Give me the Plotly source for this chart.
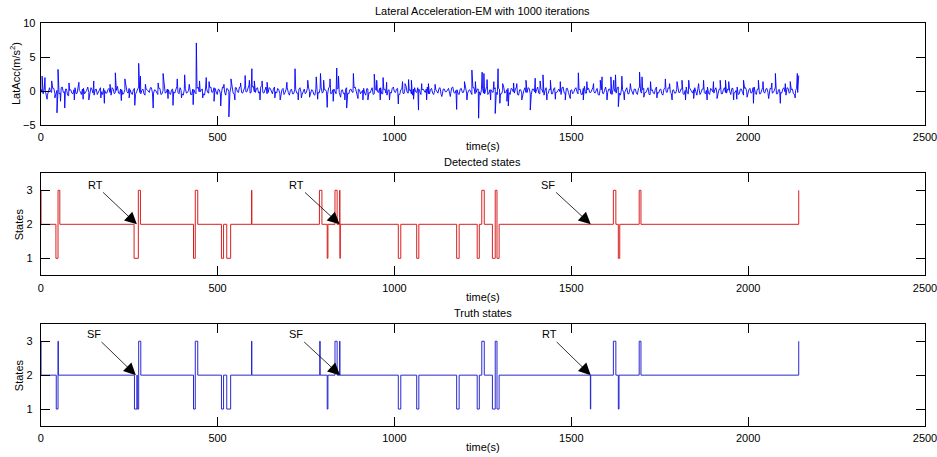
import plotly.graph_objects as go

# ---------------- data ----------------
# Lateral acceleration: two interleaved baseline noise series (every 6 s, starting t=1 and t=4), plus spikes
LAT_BASE_START = 1
LAT_BASE_B_START = 4
LAT_BASE_STEP = 6
LAT_BASE = [
    0.3,-0.4,0.1,-0.6,0.5,-0.2,0.4,-0.5,0.2,-0.3,0.6,-0.1,0.3,-0.7,0.2,-0.4,0.5,-0.3,0.1,-0.5,
    0.4,-0.2,0.6,-0.4,0.2,-0.6,0.3,-0.1,0.5,-0.5,0.1,-0.3,0.4,-0.6,0.3,-0.2,0.7,-0.4,0.2,-0.3,
    0.5,-0.3,0.2,-0.5,0.4,-0.1,0.6,-0.4,0.3,-0.6,0.2,-0.2,0.5,-0.3,0.1,-0.5,0.4,-0.4,0.6,-0.2,
    0.2,-0.5,0.3,-0.3,0.7,-0.4,0.1,-0.6,0.4,-0.2,0.5,-0.5,0.2,-0.4,0.6,-0.1,0.3,-0.6,0.4,-0.3,
    0.6,-0.1,0.4,-0.5,0.2,-0.3,0.5,-0.6,0.3,-0.2,0.8,-0.4,0.5,-0.2,0.7,-0.3,0.6,-0.1,0.9,-0.2,
    0.7,-0.2,0.5,-0.1,0.8,-0.3,0.6,-0.2,0.4,-0.4,0.6,-0.3,0.2,-0.5,0.4,-0.2,0.5,-0.6,0.3,-0.4,
    0.2,-0.3,0.5,-0.5,0.3,-0.2,0.6,-0.4,0.1,-0.6,0.4,-0.3,0.5,-0.1,0.2,-0.5,0.6,-0.3,0.3,-0.4,
    0.4,-0.6,0.2,-0.3,0.5,-0.4,0.3,-0.2,0.6,-0.5,0.2,-0.1,0.4,-0.6,0.3,-0.3,0.5,-0.4,0.1,-0.2,
    0.5,-0.4,0.3,-0.6,0.2,-0.3,0.6,-0.2,0.4,-0.5,0.3,-0.4,0.7,-0.3,0.2,-0.6,0.5,-0.2,0.3,-0.5,
    0.3,-0.2,0.6,-0.4,0.4,-0.5,0.2,-0.3,0.5,-0.6,0.3,-0.1,0.4,-0.4,0.6,-0.3,0.2,-0.5,0.4,-0.2,
    0.6,-0.3,0.2,-0.5,0.5,-0.2,0.3,-0.6,0.4,-0.4,0.7,-0.3,0.2,-0.2,0.5,-0.5,0.3,-0.4,0.6,-0.1,
    0.4,-0.5,0.3,-0.3,0.6,-0.6,0.2,-0.4,0.5,-0.2,0.4,-0.5,0.3,-0.3,0.6,-0.4,0.2,-0.6,0.5,-0.3,
    0.2,-0.4,0.5,-0.2,0.3,-0.5,0.6,-0.3,0.4,-0.6,0.2,-0.2,0.5,-0.4,0.3,-0.5,0.7,-0.3,0.4,-0.2,
    0.5,-0.3,0.4,-0.6,0.2,-0.4,0.6,-0.2,0.3,-0.5,0.4,-0.3,0.6,-0.6,0.2,-0.2,0.5,-0.4,0.3,-0.5,
    0.3,-0.5,0.6,-0.3,0.4,-0.2,0.5,-0.5,0.2,-0.4,0.6,-0.3,0.3,-0.6,0.5,-0.2,0.4,-0.4,0.2,-0.3,
    0.4,-0.2,0.3,-0.5,0.6,-0.4,0.2,-0.3,0.5,-0.6,0.4,-0.2,0.3,-0.4,0.6,-0.5,0.2,-0.3,0.5,-0.4,
    0.3,-0.4,0.5,-0.3,0.2,-0.5,0.4,-0.2,0.6,-0.4,0.3,-0.6,0.5,-0.3,0.4,-0.2,0.6,-0.5,0.3,-0.4,
    0.5,-0.3,0.4,-0.5,0.3,-0.2,0.6,-0.4,0.2,-0.3,0.5,-0.6,0.4,-0.2,0.3,-0.5,0.4,
]
LAT_BASE_B = [
    -0.2,0.3,-0.5,0.2,-0.1,0.4,-0.3,0.1,-0.4,0.5,-0.2,0.3,-0.6,0.1,-0.3,0.2,-0.4,0.4,-0.1,0.3,
    -0.4,0.1,-0.2,0.5,-0.3,0.2,-0.5,0.3,-0.1,0.4,-0.3,0.2,-0.2,0.5,-0.4,0.1,-0.3,0.3,-0.5,0.2,
    -0.1,0.4,-0.3,0.2,-0.5,0.3,-0.2,0.1,-0.4,0.3,-0.1,0.5,-0.3,0.2,-0.2,0.4,-0.5,0.1,-0.3,0.3,
    -0.3,0.2,-0.1,0.4,-0.2,0.5,-0.4,0.2,-0.3,0.1,-0.5,0.3,-0.2,0.4,-0.1,0.2,-0.4,0.3,-0.2,0.5,
    -0.2,0.5,-0.1,0.3,-0.4,0.6,-0.2,0.4,-0.1,0.7,-0.3,0.5,-0.1,0.6,-0.2,0.4,-0.1,0.5,-0.3,0.6,
    -0.1,0.4,-0.3,0.6,-0.2,0.3,-0.4,0.5,-0.2,0.3,-0.1,0.4,-0.3,0.2,-0.5,0.3,-0.2,0.1,-0.4,0.2,
    -0.3,0.3,-0.2,0.1,-0.4,0.4,-0.1,0.2,-0.5,0.3,-0.2,0.4,-0.3,0.2,-0.1,0.5,-0.4,0.2,-0.2,0.3,
    -0.2,0.1,-0.4,0.3,-0.3,0.2,-0.1,0.5,-0.2,0.3,-0.4,0.1,-0.3,0.4,-0.2,0.2,-0.5,0.3,-0.1,0.4,
    -0.4,0.2,-0.3,0.1,-0.2,0.4,-0.1,0.3,-0.5,0.2,-0.3,0.4,-0.2,0.1,-0.4,0.3,-0.1,0.5,-0.3,0.2,
    -0.1,0.3,-0.4,0.2,-0.3,0.1,-0.2,0.4,-0.5,0.3,-0.1,0.2,-0.3,0.5,-0.2,0.1,-0.4,0.3,-0.2,0.4,
    -0.3,0.1,-0.2,0.5,-0.4,0.3,-0.1,0.2,-0.3,0.4,-0.5,0.2,-0.1,0.3,-0.2,0.4,-0.4,0.1,-0.3,0.2,
    -0.2,0.4,-0.1,0.3,-0.5,0.2,-0.3,0.1,-0.2,0.5,-0.4,0.3,-0.1,0.2,-0.3,0.4,-0.2,0.1,-0.5,0.3,
    -0.4,0.3,-0.2,0.2,-0.1,0.5,-0.3,0.4,-0.2,0.1,-0.4,0.3,-0.1,0.2,-0.5,0.4,-0.3,0.2,-0.2,0.1,
    -0.1,0.2,-0.5,0.4,-0.3,0.1,-0.2,0.3,-0.4,0.2,-0.1,0.5,-0.3,0.3,-0.2,0.1,-0.4,0.4,-0.1,0.3,
    -0.3,0.4,-0.1,0.2,-0.2,0.3,-0.5,0.1,-0.3,0.4,-0.2,0.2,-0.4,0.3,-0.1,0.5,-0.2,0.1,-0.3,0.2,
    -0.2,0.3,-0.4,0.1,-0.3,0.5,-0.1,0.2,-0.2,0.4,-0.5,0.3,-0.2,0.1,-0.3,0.4,-0.1,0.2,-0.4,0.3,
    -0.4,0.2,-0.2,0.3,-0.1,0.4,-0.3,0.1,-0.5,0.3,-0.2,0.4,-0.1,0.2,-0.3,0.5,-0.2,0.3,-0.4,0.1,
    -0.1,0.3,-0.2,0.4,-0.3,0.1,-0.4,0.2,-0.2,0.3,-0.1,0.5,-0.3,0.2,-0.4,0.1,-0.2,
]
LAT_SPIKE_T = [
    4, 12, 18, 31, 40, 46, 49, 56, 68, 80, 95, 108, 120, 136, 150, 170, 180, 196, 211, 228,
    238, 250, 266, 277, 282, 296, 318, 332, 346, 360, 374, 386, 398, 407, 420, 431, 440, 449,
    458, 468, 476, 490, 509, 518, 532, 538,
    549, 565, 578, 590, 597, 604, 620, 626, 640, 662, 677, 696, 719, 728, 737, 755, 760, 779,
    783, 791, 800, 810, 818, 827, 837, 842, 848, 860, 865, 884, 897, 911, 925, 943, 950, 960,
    968, 978, 986, 1011, 1023, 1030, 1040, 1048, 1054, 1068, 1077, 1091,
    1096, 1115, 1134, 1158, 1176, 1198, 1205, 1219, 1229, 1238, 1248, 1253, 1262, 1272, 1281,
    1285, 1293, 1298, 1306, 1318, 1322, 1337, 1346, 1360, 1372, 1384, 1398, 1412, 1420, 1431,
    1441, 1455, 1469, 1483, 1497, 1520, 1534, 1544, 1563, 1582, 1587, 1601, 1612, 1620,
    1625, 1633, 1643, 1650, 1667, 1693, 1700, 1705, 1724, 1742, 1766, 1778, 1785, 1799, 1813,
    1823, 1832, 1846, 1860, 1874, 1884, 1902, 1912, 1921, 1936, 1945, 1959, 1968, 1987, 1997,
    2015, 2029, 2042, 2058, 2067, 2077, 2091, 2105, 2119, 2133, 2139, 2141, 2143,
]
LAT_SPIKE_V = [
    2.2, 2.0, -1.2, 1.5, -1.0, -3.2, 3.2, -1.5, -2.5, 1.2, -1.3, 1.3, -1.2, -1.3, 1.5, -1.0, -1.8, 1.0, 2.7, -1.4,
    1.8, -1.0, -2.1, 4.1, 2.2, 1.0, -2.5, 1.2, 2.6, -1.1, -2.1, 1.8, -1.0, 2.4, 1.0, -2.0, 7.1, 1.5,
    -1.0, 2.0, 1.4, -1.5, -2.2, 1.0, -3.8, 1.8,
    -1.3, 1.2, 2.3, 1.6, 3.3, 1.5, -1.3, 1.5, 1.3, -1.0, -1.3, 1.3, 3.3, -1.3, -1.0, 1.6, -0.9, 2.1,
    -1.2, 2.6, 1.6, -2.4, 1.8, -1.5, 3.4, 2.2, -0.9, -1.3, -2.5, 2.6, -1.1, -1.3, -1.3, 2.5, 1.6, -1.3,
    2.0, 1.3, -1.3, -1.9, 1.4, 1.1, 1.7, 1.6, -1.2, -2.8, 1.1, -1.3,
    1.1, 1.0, -0.8, -0.8, -2.7, 1.4, -1.3, 3.1, 1.4, -4.0, 2.8, 2.6, 1.7, -1.3, 1.4,
    -3.3, 3.3, -1.8, 1.1, -1.5, -2.2, 1.2, 1.1, -1.3, 1.6, -2.8, 1.9, 1.5, 2.4, -1.3,
    1.6, -1.2, 1.4, -1.3, -1.1, 2.7, -1.3, 1.4, 1.1, 1.6, 2.1, -1.3, 2.1, 1.6,
    2.4, -2.3, 2.2, -1.3, 1.1, 2.8, 2.1, -0.9, 1.4, -1.0, 1.8, 1.1, -1.3, 1.4, 1.6,
    -1.3, 1.6, -1.1, 1.1, 1.6, -1.3, 1.4, -1.1, 1.6, 1.6, 1.4, -1.3, -1.2, 1.6, -0.9,
    -1.8, 1.6, 1.4, -1.1, 1.2, 2.6, -1.8, 1.1, 1.4, -1.0, 2.6, 1.8, 2.3,
]

# Detected states: change times and new state (step-wise)
DET_T = [0, 1, 43, 49, 54, 264, 276, 282, 432, 437, 444, 511, 517, 526, 537, 596, 597,
         788, 795, 810, 812, 832, 838, 845, 846, 847, 1011, 1018, 1063, 1069, 1176, 1183,
         1234, 1240, 1247, 1254, 1277, 1285, 1290, 1296, 1619, 1626, 1633, 1637, 1692, 1697, 2143]
DET_S = [3, 2, 1, 3, 2, 1, 3, 2, 1, 3, 2, 1, 2, 1, 2, 3, 2,
         3, 2, 1, 2, 3, 2, 3, 1, 2, 1, 2, 1, 2, 1, 2,
         1, 2, 3, 2, 1, 3, 1, 2, 3, 2, 1, 2, 3, 2, 3]

# Truth states
TRU_T = [0, 1, 44, 49, 50, 265, 272, 273, 277, 283, 432, 437, 444, 511, 517, 526, 537, 596, 597,
         789, 790, 810, 812, 832, 838, 845, 846, 1011, 1018, 1063, 1069, 1176, 1183,
         1234, 1240, 1247, 1254, 1277, 1285, 1290, 1296, 1554, 1555, 1619, 1626, 1633, 1635,
         1692, 1697, 2143]
TRU_S = [3, 2, 1, 3, 2, 1, 2, 1, 3, 2, 1, 3, 2, 1, 2, 1, 2, 3, 2,
         3, 2, 1, 2, 3, 2, 3, 2, 1, 2, 1, 2, 1, 2,
         1, 2, 3, 2, 1, 3, 1, 2, 1, 2, 3, 2, 1, 2,
         3, 2, 3]

# Annotations (label text, label position, arrow tip at state 2)
DET_LABELS = ["RT", "RT", "SF"]
DET_LABEL_T = [154, 724, 1434]
DET_LABEL_Y = [3.16, 3.16, 3.16]
DET_TIP_T = [272, 845, 1555]

TRU_LABELS = ["SF", "SF", "RT"]
TRU_LABEL_T = [150, 722, 1437]
TRU_LABEL_Y = [3.2, 3.2, 3.2]
TRU_TIP_T = [269, 846, 1555]
ARROW_TIP_STATE = 2

X_TICKS = [0, 500, 1000, 1500, 2000, 2500]
LAT_Y_TICKS = [-5, 0, 5, 10]
STATE_TICKS = [1, 2, 3]

TITLES = ["Lateral Acceleration-EM with 1000 iterations", "Detected states", "Truth states"]

# ---------------- build ----------------
base_t = [LAT_BASE_START + LAT_BASE_STEP * i for i in range(len(LAT_BASE))]
base_tb = [LAT_BASE_B_START + LAT_BASE_STEP * i for i in range(len(LAT_BASE_B))]
pairs = sorted(list(zip(base_t, LAT_BASE)) + list(zip(base_tb, LAT_BASE_B))
               + list(zip(LAT_SPIKE_T, LAT_SPIKE_V)), key=lambda p: p[0])
lat_t = [p[0] for p in pairs]
lat_v = [p[1] for p in pairs]

FONT = "Liberation Sans, Arial, sans-serif"
W, H = 937, 457

fig = go.Figure()
fig.add_trace(go.Scatter(x=lat_t, y=lat_v, mode="lines", line=dict(color="#0000ff", width=0.9),
                         xaxis="x", yaxis="y", showlegend=False, hoverinfo="skip"))
fig.add_trace(go.Scatter(x=DET_T, y=DET_S, mode="lines", line=dict(color="#d82020", width=1, shape="hv"),
                         xaxis="x2", yaxis="y2", showlegend=False, hoverinfo="skip"))
fig.add_trace(go.Scatter(x=TRU_T, y=TRU_S, mode="lines", line=dict(color="#2828d0", width=1, shape="hv"),
                         xaxis="x3", yaxis="y3", showlegend=False, hoverinfo="skip"))

x0, x1 = 40.7 / W, 925.0 / W
rows = [(23.3, 125.0), (173.3, 275.3), (324.3, 426.0)]

def ydom(top, bot):
    return [1 - bot / H, 1 - top / H]

common = dict(showline=True, linecolor="black", linewidth=1, mirror="ticks", ticks="inside",
              ticklen=9, tickwidth=1, tickcolor="black", showgrid=False, zeroline=False,
              automargin=False, ticklabeloverflow="allow",
              tickfont=dict(family=FONT, size=11, color="black"))

layout = dict(width=W, height=H, margin=dict(l=0, r=0, t=0, b=0, autoexpand=False),
              paper_bgcolor="white", plot_bgcolor="white", font=dict(family=FONT, size=11, color="black"))

for i, (top, bot) in enumerate(rows):
    sx = "" if i == 0 else str(i + 1)
    layout["xaxis" + sx] = dict(common, domain=[x0, x1], range=[0, 2500], tickvals=X_TICKS,
                                anchor="y" + sx, ticklabelstandoff=2)
    if i == 0:
        layout["yaxis"] = dict(common, domain=ydom(top, bot), range=[-5, 10], tickvals=LAT_Y_TICKS,
                               anchor="x", ticklabelstandoff=2)
    else:
        layout["yaxis" + sx] = dict(common, domain=ydom(top, bot), range=[0.5, 3.5], tickvals=STATE_TICKS,
                                    anchor="x" + sx, ticklabelstandoff=5)

annotations = []
title_y = [11, 162, 313]
xlab_y = [145.5, 296.5, 447]
xc = (x0 + x1) / 2
for i in range(3):
    annotations.append(dict(text=TITLES[i], xref="paper", yref="paper", x=xc, y=1 - title_y[i] / H,
                            xanchor="center", yanchor="middle", showarrow=False,
                            font=dict(family=FONT, size=11, color="black")))
    annotations.append(dict(text="time(s)", xref="paper", yref="paper", x=xc, y=1 - xlab_y[i] / H,
                            xanchor="center", yanchor="middle", showarrow=False,
                            font=dict(family=FONT, size=11, color="black")))

annotations.append(dict(text="LatAcc(m/s<sup>2</sup>)", xref="paper", yref="paper", x=15 / W, y=1 - 74 / H,
                        xanchor="center", yanchor="middle", textangle=-90, showarrow=False,
                        font=dict(family=FONT, size=11, color="black")))
for top, bot in rows[1:]:
    annotations.append(dict(text="States", xref="paper", yref="paper", x=19 / W, y=1 - (top + bot) / 2 / H,
                            xanchor="center", yanchor="middle", textangle=-90, showarrow=False,
                            font=dict(family=FONT, size=11, color="black")))

def add_arrows(labels, lt, ly, tip, ax_id):
    for k in range(len(labels)):
        annotations.append(dict(text=labels[k], x=tip[k], y=ARROW_TIP_STATE,
                                xref="x" + ax_id, yref="y" + ax_id,
                                ax=lt[k], ay=ly[k], axref="x" + ax_id, ayref="y" + ax_id,
                                showarrow=True, arrowhead=2, arrowsize=3, arrowwidth=0.8,
                                arrowcolor="black", standoff=0, borderpad=1,
                                font=dict(family=FONT, size=11, color="black")))

add_arrows(DET_LABELS, DET_LABEL_T, DET_LABEL_Y, DET_TIP_T, "2")
add_arrows(TRU_LABELS, TRU_LABEL_T, TRU_LABEL_Y, TRU_TIP_T, "3")

layout["annotations"] = annotations
fig.update_layout(**layout)
fig.write_html("out.html", config={"displayModeBar": False},
               post_script="document.body.style.margin='0px';document.body.style.overflow='hidden';")
